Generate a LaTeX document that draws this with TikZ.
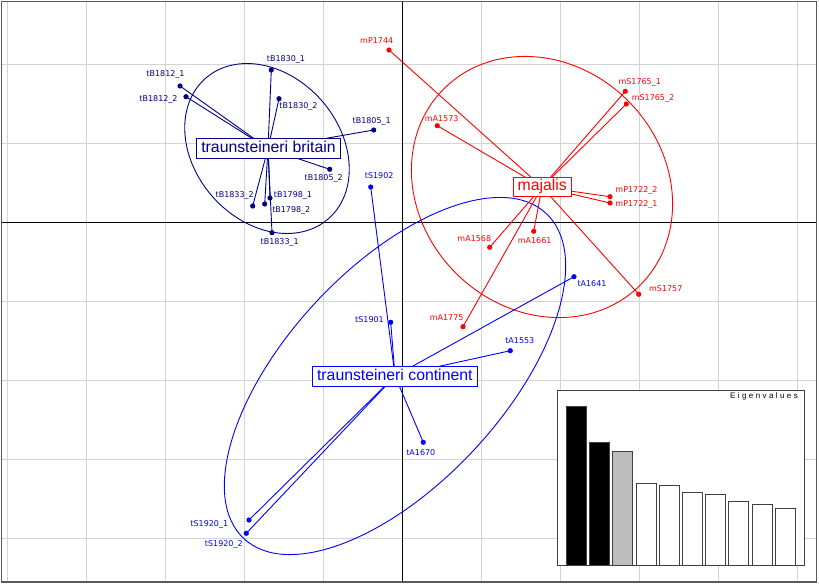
\documentclass[tikz,border=0pt]{standalone}
\usepackage{fontspec}
\newfontfamily\ptfont{DejaVu Sans}
\newfontfamily\clsfont{Liberation Sans}
\newfontfamily\eigfont[LetterSpace=30]{Liberation Sans}
\definecolor{colB}{RGB}{0,0,139}
\definecolor{colC}{RGB}{0,0,255}
\definecolor{colM}{RGB}{255,0,0}
\definecolor{gridc}{RGB}{212,212,212}
\definecolor{barg}{RGB}{190,190,190}
\newcommand\smp[7]{%
  \node[dot,#7] (#1) at (#2,#3) {};
  \node[ptlab,#7] (#1l) at (#5,#6) {#4};
}
\begin{document}
\begin{tikzpicture}[x=1pt,y=-1pt,
  gridline/.style={draw=gridc, line width=0.9pt},
  axisline/.style={draw=black, line width=0.9pt},
  dot/.style={circle, fill, inner sep=0pt, minimum size=5.2pt},
  ptlab/.style={font=\ptfont\fontsize{8}{9}\selectfont, inner sep=0pt, text height=5.8pt, text depth=0pt},
  cls/.style={font=\clsfont\fontsize{15.8}{18}\selectfont, fill=white, draw, line width=0.9pt,
    inner xsep=4.5pt, inner ysep=2.3pt, text height=11.5pt, text depth=3.3pt},
  star/.style={line width=0.9pt},
  ell/.style={line width=0.9pt},
  bar/.style={draw=black!75, line width=0.8pt},
]
\useasboundingbox (0,0) rectangle (819,584);
\fill[white] (0,0) rectangle (819,584);
% grid
\foreach \k in {0,...,10} \draw[gridline] ({7.5+79*\k},1.5) -- ({7.5+79*\k},582);
\foreach \k in {-2,...,4} \draw[gridline] (1.5,{222+79*\k}) -- (816.5,{222+79*\k});
\draw[axisline] (402.5,1.5) -- (402.5,582);
\draw[axisline] (1.5,222) -- (816.5,222);
\draw[draw=black!65, line width=1.3pt] (1.5,1.5) rectangle (816.5,582);

% ellipses
\draw[ell, colB] [rotate around={131.2:(267,148.5)}] (267,148.5) ellipse [x radius=93.3pt, y radius=72.7pt];
\draw[ell, colM] [rotate around={135:(542,187)}] (542,187) ellipse [x radius=138.8pt, y radius=121.8pt];
\draw[ell, colC] [rotate around={47.1:(395,376)}] (395,376) ellipse [x radius=222pt, y radius=108.2pt];

% centres
\coordinate (cB) at (268,148.5);
\coordinate (cM) at (542,187);
\coordinate (cC) at (395,376);

% britain
\smp{B1830a}{271.3}{70}{tB1830\_1}{286}{59}{colB}
\smp{B1812a}{180}{86}{tB1812\_1}{165.5}{74}{colB}
\smp{B1812b}{186}{96.7}{tB1812\_2}{158.5}{99}{colB}
\smp{B1830b}{279}{98.7}{tB1830\_2}{298.5}{106}{colB}
\smp{B1805a}{373.7}{130}{tB1805\_1}{371.7}{120.7}{colB}
\smp{B1805b}{329.7}{169.3}{tB1805\_2}{323.7}{177.3}{colB}
\smp{B1833b}{252.7}{206}{tB1833\_2}{234.7}{195}{colB}
\smp{B1798b}{264.7}{204}{tB1798\_2}{291.3}{209.3}{colB}
\smp{B1798a}{270}{198}{tB1798\_1}{293}{194.3}{colB}
\smp{B1833a}{272}{232.7}{tB1833\_1}{279.7}{241.7}{colB}
\foreach \n in {B1830a,B1812a,B1812b,B1830b,B1805a,B1805b,B1833b,B1798b,B1798a,B1833a}
  \draw[star,colB] (cB) -- (\n.center);

% majalis
\smp{P1744}{389}{50}{mP1744}{376.7}{40.7}{colM}
\smp{A1573}{437.3}{125.7}{mA1573}{441.7}{118.7}{colM}
\smp{S1765a}{625.3}{91.3}{mS1765\_1}{639.7}{82}{colM}
\smp{S1765b}{626.3}{104}{mS1765\_2}{653}{97.3}{colM}
\smp{P1722b}{610}{196.7}{mP1722\_2}{636.5}{189.3}{colM}
\smp{P1722a}{610}{203}{mP1722\_1}{636.5}{203.3}{colM}
\smp{A1568}{489.7}{247.3}{mA1568}{474.3}{239}{colM}
\smp{A1661}{533.7}{231.3}{mA1661}{534.7}{240.3}{colM}
\smp{S1757}{638.7}{294.3}{mS1757}{665.8}{289}{colM}
\smp{A1775}{463}{326.7}{mA1775}{446.7}{317.3}{colM}
\foreach \n in {P1744,A1573,S1765a,S1765b,P1722b,P1722a,A1568,A1661,S1757,A1775}
  \draw[star,colM] (cM) -- (\n.center);

% continent
\smp{S1902}{370.7}{187}{tS1902}{379.2}{176}{colC}
\smp{S1901}{390.7}{322.3}{tS1901}{369.5}{320}{colC}
\smp{A1553}{510.3}{350.7}{tA1553}{519.8}{340.7}{colC}
\smp{A1670}{423.3}{442.3}{tA1670}{420.8}{453}{colC}
\smp{S1920a}{249}{520}{tS1920\_1}{209.3}{523.7}{colC}
\smp{S1920b}{246.3}{533.3}{tS1920\_2}{223.8}{543.7}{colC}
\smp{A1641}{574}{276.7}{tA1641}{592}{284}{colC}
\foreach \n in {S1902,S1901,A1553,A1670,S1920a,S1920b,A1641}
  \draw[star,colC] (cC) -- (\n.center);

% class labels
\node[cls, draw=colB, text=colB] (nB) at (268.5,148.5) {traunsteineri britain};
\node[cls, draw=colM, text=colM] (nM) at (542.2,186.8) {majalis};
\node[cls, draw=colC, text=colC] (nC) at (394.8,376.3) {traunsteineri continent};

% eigenvalues inset
\draw[draw=black!75, fill=white, line width=0.9pt] (557.5,390.5) rectangle (804,565);
\foreach \i/\t/\f in {0/406/black,1/442.7/black,2/451.7/barg,3/483.7/white,4/485.7/white,5/492.7/white,6/494.3/white,7/501/white,8/504.7/white,9/508.3/white}
  \draw[bar, fill=\f] ({566.3+23.2*\i},565) rectangle ({586.3+23.2*\i},\t);
\node[font=\eigfont\fontsize{8}{9}\selectfont, anchor=north west, inner sep=0pt] (eig) at (730,392.5) {Eigenvalues};
\end{tikzpicture}
\end{document}
